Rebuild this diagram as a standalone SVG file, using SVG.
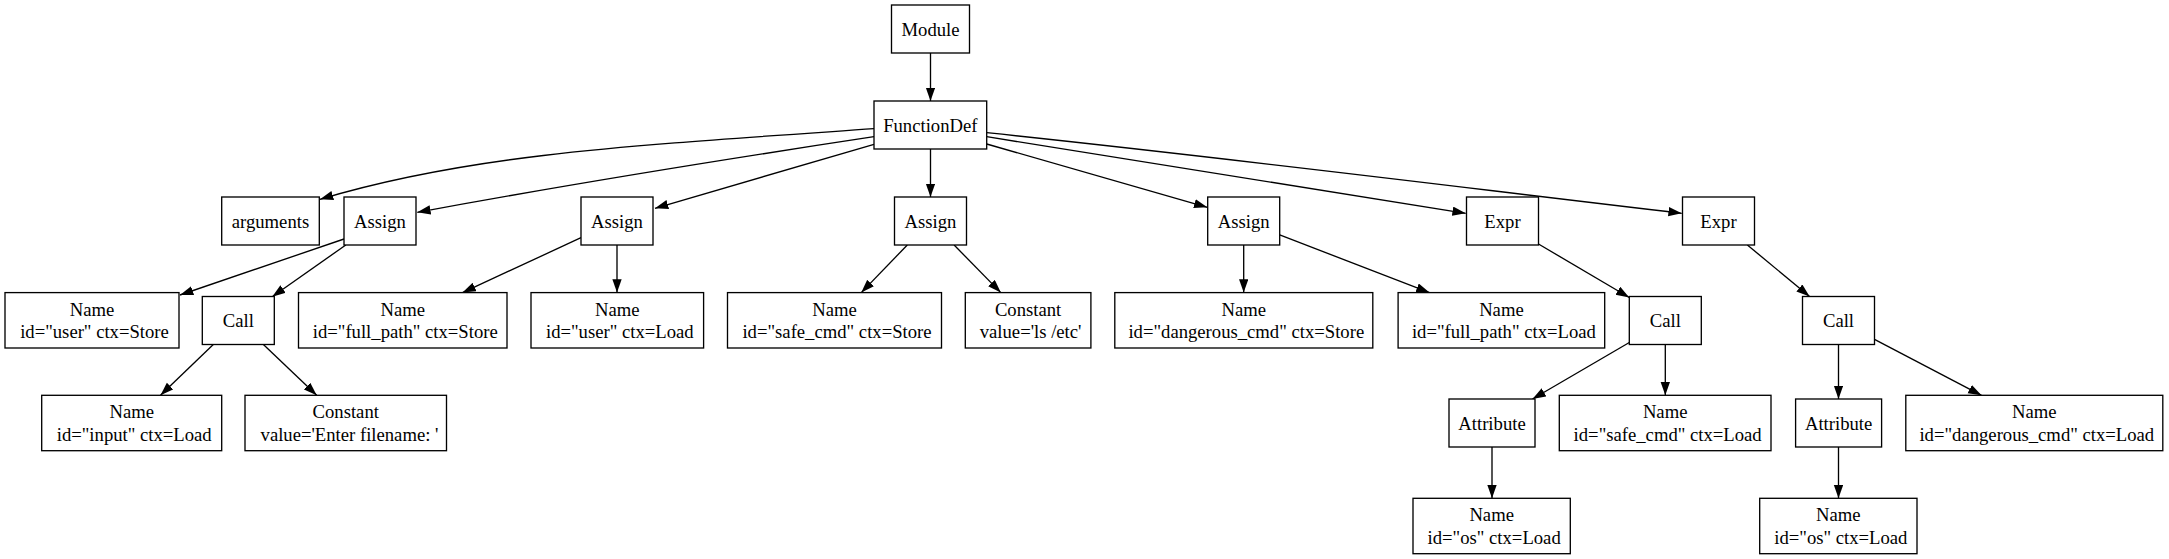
<svg xmlns="http://www.w3.org/2000/svg" width="2169" height="559" viewBox="0 0 2169 559">
<defs>
<marker id="arr" markerWidth="14" markerHeight="10" refX="13.3" refY="4.67" orient="auto" markerUnits="userSpaceOnUse"><path d="M0,0 L13.3,4.67 L0,9.33 z" fill="#000"/></marker>
<style>
rect{fill:#fff;stroke:#000;stroke-width:1.33}
text{font-family:"Liberation Serif","Times New Roman",serif;font-size:18.67px;fill:#000;text-anchor:middle}
#edges path{fill:none;stroke:#000;stroke-width:1.33;marker-end:url(#arr)}
</style>
</defs>
<rect x="0" y="0" width="2169" height="559" style="fill:#fff;stroke:none"/>
<g id="edges">
<path d="M930.5,53 L930.5,101"/>
<path d="M874,128.7 C624,146 470,154.3 320,199.3"/>
<path d="M874,136.7 C720,160 560,186 417.3,212.3"/>
<path d="M874,144.3 L655,208.3"/>
<path d="M930.5,149 L930.5,197"/>
<path d="M986.7,144 L1207.3,207.3"/>
<path d="M986.7,136.7 L1465.7,213.3"/>
<path d="M986.7,132.7 C1220,157 1450,186 1681.7,213.3"/>
<path d="M344,239 L180,295"/>
<path d="M345.8,245 L272.2,296.7"/>
<path d="M581,237.7 L462.5,292.6"/>
<path d="M617,245 L617,292.6"/>
<path d="M907.3,245 L861.3,292.6"/>
<path d="M954.1,245 L1000.8,292.6"/>
<path d="M1243.7,245 L1243.7,292.6"/>
<path d="M1279.7,234.9 L1429.5,292.6"/>
<path d="M1538.5,244 L1629.3,297.5"/>
<path d="M1747.4,245 L1809.6,296.5"/>
<path d="M213.3,344.5 L160.5,395.3"/>
<path d="M263.4,344.5 L316.7,395.3"/>
<path d="M1629.3,342.5 L1532.5,399"/>
<path d="M1665.3,344.5 L1665.3,395.3"/>
<path d="M1838.5,344.5 L1838.5,399"/>
<path d="M1874.5,339.3 L1981.5,395.3"/>
<path d="M1492,447 L1492,498.3"/>
<path d="M1838.5,447 L1838.5,498.3"/>
</g>
<g id="module"><rect x="891.5" y="5" width="78" height="48"/><text x="930.5" y="35.5">Module</text></g>
<g id="functiondef"><rect x="874" y="101" width="112.7" height="48"/><text x="930.3" y="131.5">FunctionDef</text></g>
<g id="arguments"><rect x="221.7" y="197" width="97.6" height="48"/><text x="270.5" y="227.5">arguments</text></g>
<g id="assign1"><rect x="344" y="197" width="72" height="48"/><text x="380" y="227.5">Assign</text></g>
<g id="assign2"><rect x="581" y="197" width="72" height="48"/><text x="617" y="227.5">Assign</text></g>
<g id="assign3"><rect x="894.5" y="197" width="72" height="48"/><text x="930.5" y="227.5">Assign</text></g>
<g id="assign4"><rect x="1207.7" y="197" width="72" height="48"/><text x="1243.7" y="227.5">Assign</text></g>
<g id="expr1"><rect x="1466.5" y="197" width="72" height="48"/><text x="1502.5" y="227.5">Expr</text></g>
<g id="expr2"><rect x="1682.5" y="197" width="72" height="48"/><text x="1718.5" y="227.5">Expr</text></g>
<g id="name_user_store"><rect x="5" y="292.6" width="174" height="55.4"/><text x="92" y="315.6">Name</text><text x="94.5" y="338">id="user" ctx=Store</text></g>
<g id="call1"><rect x="202.3" y="296.5" width="72" height="48"/><text x="238.3" y="327">Call</text></g>
<g id="name_fullpath_store"><rect x="298.5" y="292.6" width="208.5" height="55.4"/><text x="402.75" y="315.6">Name</text><text x="405.25" y="338">id="full_path" ctx=Store</text></g>
<g id="name_user_load"><rect x="531" y="292.6" width="172.6" height="55.4"/><text x="617.3" y="315.6">Name</text><text x="619.8" y="338">id="user" ctx=Load</text></g>
<g id="name_safecmd_store"><rect x="727.5" y="292.6" width="214" height="55.4"/><text x="834.5" y="315.6">Name</text><text x="837" y="338">id="safe_cmd" ctx=Store</text></g>
<g id="constant_ls"><rect x="965.3" y="292.6" width="125.6" height="55.4"/><text x="1028.1" y="315.6">Constant</text><text x="1030.6" y="338">value='ls /etc'</text></g>
<g id="name_dangerous_store"><rect x="1114.8" y="292.6" width="258" height="55.4"/><text x="1243.8" y="315.6">Name</text><text x="1246.3" y="338">id="dangerous_cmd" ctx=Store</text></g>
<g id="name_fullpath_load"><rect x="1398.1" y="292.6" width="206.6" height="55.4"/><text x="1501.4" y="315.6">Name</text><text x="1503.9" y="338">id="full_path" ctx=Load</text></g>
<g id="call2"><rect x="1629.3" y="296.5" width="72" height="48"/><text x="1665.3" y="327">Call</text></g>
<g id="call3"><rect x="1802.5" y="296.5" width="72" height="48"/><text x="1838.5" y="327">Call</text></g>
<g id="name_input_load"><rect x="41.7" y="395.3" width="180" height="55.4"/><text x="131.7" y="418.3">Name</text><text x="134.2" y="440.7">id="input" ctx=Load</text></g>
<g id="constant_enter"><rect x="245" y="395.3" width="201.5" height="55.4"/><text x="345.75" y="418.3">Constant</text><text x="349.5" y="440.7">value='Enter filename: '</text></g>
<g id="attribute1"><rect x="1449" y="399" width="86" height="48"/><text x="1492" y="429.5">Attribute</text></g>
<g id="name_safecmd_load"><rect x="1559.3" y="395.3" width="211.7" height="55.4"/><text x="1665.15" y="418.3">Name</text><text x="1667.65" y="440.7">id="safe_cmd" ctx=Load</text></g>
<g id="attribute2"><rect x="1795.6" y="399" width="86" height="48"/><text x="1838.6" y="429.5">Attribute</text></g>
<g id="name_dangerous_load"><rect x="1905.8" y="395.3" width="257" height="55.4"/><text x="2034.3" y="418.3">Name</text><text x="2036.8" y="440.7">id="dangerous_cmd" ctx=Load</text></g>
<g id="name_os1"><rect x="1413" y="498.3" width="157.3" height="55.4"/><text x="1491.65" y="521.3">Name</text><text x="1494.15" y="543.7">id="os" ctx=Load</text></g>
<g id="name_os2"><rect x="1759.7" y="498.3" width="157.3" height="55.4"/><text x="1838.35" y="521.3">Name</text><text x="1840.85" y="543.7">id="os" ctx=Load</text></g>
</svg>
